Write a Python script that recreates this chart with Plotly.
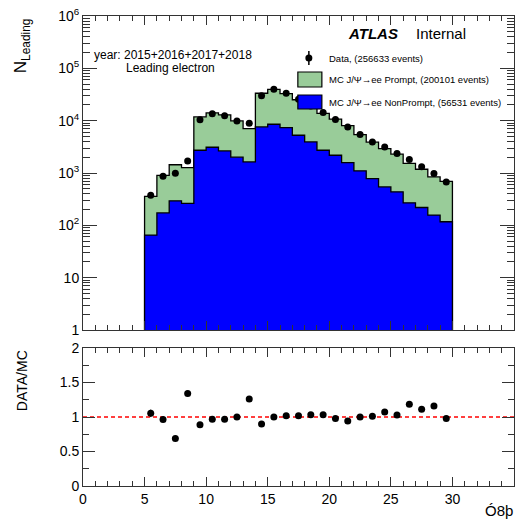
import numpy as np
import plotly.graph_objects as go

# ---------------- data ----------------
bin_edges = list(range(5, 31))
data_counts = [377, 869, 991, 1702, 10450, 13570, 12410, 9880, 8910, 30000,
               39700, 33500, 25600, 19100, 14300, 10500, 7590, 5420, 3920, 3150,
               2355, 1810, 1310, 977, 676]
mc_prompt = [293, 727, 1144, 1008, 9050, 10940, 10210, 7880, 5430, 25820,
             31160, 25500, 19860, 14550, 11110, 8530, 6470, 4320, 3100, 2390,
             1850, 1260, 960, 685, 573]
mc_nonprompt = [65, 173, 294, 262, 2720, 3105, 2640, 2003, 1630, 7590,
                8540, 7380, 5260, 3920, 2720, 2185, 1585, 1099, 784, 543,
                436, 269, 219, 157, 117]
main_ytick_vals = [1, 10, 100, 1000, 10000, 100000, 1000000]
main_ytick_text = ["1", "10", "10<sup>2</sup>", "10<sup>3</sup>", "10<sup>4</sup>",
                   "10<sup>5</sup>", "10<sup>6</sup>"]
ratio_ytick_vals = [0, 0.5, 1, 1.5, 2]
ratio_ytick_text = ["0", "0.5", "1", "1.5", "2"]
x_tick_vals = [0, 5, 10, 15, 20, 25, 30, 35]

edges = np.array(bin_edges, dtype=float)
centers = 0.5 * (edges[:-1] + edges[1:])
data = np.array(data_counts, dtype=float)
prompt = np.array(mc_prompt, dtype=float)
nonprompt = np.array(mc_nonprompt, dtype=float)
total = prompt + nonprompt
ratio = data / total
ratio_err = np.sqrt(data) / total

FONT = "Liberation Sans, Arial, Helvetica, sans-serif"
W = H = 521
L_PX, R_PX = 83.3, 514.0
T_PX, B_PX = 16.0, 486.0
MAIN_BOT = 330.0
RATIO_TOP = 348.0


def xp(px):
    return (px - L_PX) / (R_PX - L_PX)


def yp(py):
    return (B_PX - py) / (B_PX - T_PX)


def step_poly(e, vals, base=1.0):
    xs = [e[0]]
    ys = [base]
    for i, v in enumerate(vals):
        xs += [e[i], e[i + 1]]
        ys += [v, v]
    xs.append(e[-1])
    ys.append(base)
    return xs, ys


fig = go.Figure()

# stacked histogram: total (green on top) then nonprompt (blue)
xs_t, ys_t = step_poly(edges, total)
fig.add_trace(go.Scatter(x=xs_t, y=ys_t, mode="lines", fill="toself",
                         fillcolor="#99cc99", line=dict(color="black", width=1.3),
                         xaxis="x", yaxis="y", hoverinfo="skip", showlegend=False))
xs_n, ys_n = step_poly(edges, nonprompt)
fig.add_trace(go.Scatter(x=xs_n, y=ys_n, mode="lines", fill="toself",
                         fillcolor="#0000ff", line=dict(color="black", width=1.3),
                         xaxis="x", yaxis="y", hoverinfo="skip", showlegend=False))
# data points
fig.add_trace(go.Scatter(x=centers, y=data, mode="markers",
                         marker=dict(color="black", size=7),
                         error_y=dict(type="data", array=np.sqrt(data), color="black",
                                      thickness=1, width=0),
                         xaxis="x", yaxis="y", showlegend=False))

# ratio
fig.add_trace(go.Scatter(x=[0, 35], y=[1, 1], mode="lines",
                         line=dict(color="red", width=1.3, dash="4px,3px"),
                         xaxis="x2", yaxis="y2", hoverinfo="skip", showlegend=False))
fig.add_trace(go.Scatter(x=centers, y=ratio, mode="markers",
                         marker=dict(color="black", size=7),
                         error_y=dict(type="data", array=ratio_err, color="black",
                                      thickness=1, width=0),
                         xaxis="x2", yaxis="y2", showlegend=False))

axis_common = dict(showgrid=False, zeroline=False, showline=True, linecolor="#333",
                   linewidth=1, mirror="allticks", ticks="inside", tickcolor="#333",
                   tickfont=dict(family=FONT, size=14, color="black"))

main_dom = [yp(MAIN_BOT), 1.0]
ratio_dom = [0.0, yp(RATIO_TOP)]

fig.update_layout(
    width=W, height=H,
    margin=dict(l=L_PX, r=W - R_PX, t=T_PX, b=H - B_PX, pad=0),
    paper_bgcolor="white", plot_bgcolor="white",
    font=dict(family=FONT, color="black"),
    showlegend=False,
    xaxis=dict(domain=[0, 1], range=[0, 35], anchor="y", tickvals=x_tick_vals,
               showticklabels=False, ticklen=9,
               minor=dict(dtick=1, ticks="inside", ticklen=5, tickcolor="#333"),
               **axis_common),
    yaxis=dict(domain=main_dom, type="log", range=[0, 6], anchor="x",
               tickvals=main_ytick_vals, ticktext=main_ytick_text, ticklen=14,
               minor=dict(dtick="D1", ticks="inside", ticklen=7, tickcolor="#333"),
               **axis_common),
    xaxis2=dict(domain=[0, 1], range=[0, 35], anchor="y2", tickvals=x_tick_vals,
                ticklen=9,
                minor=dict(dtick=1, ticks="inside", ticklen=5, tickcolor="#333"),
                **axis_common),
    yaxis2=dict(domain=ratio_dom, range=[0, 2], anchor="x2",
                tickvals=ratio_ytick_vals, ticktext=ratio_ytick_text, ticklen=12,
                minor=dict(dtick=0.25, ticks="inside", ticklen=6, tickcolor="#333"),
                **axis_common),
)

ann = []
# axis titles
ann.append(dict(text="N<sub>Leading</sub>", x=xp(22), y=yp(16), xref="paper", yref="paper",
                xanchor="center", yanchor="top", textangle=-90, showarrow=False,
                font=dict(family=FONT, size=17)))
ann.append(dict(text="DATA/MC", x=xp(22), y=yp(348), xref="paper", yref="paper",
                xanchor="center", yanchor="top", textangle=-90, showarrow=False,
                font=dict(family=FONT, size=14)))
ann.append(dict(text="Ó8þ", x=xp(515), y=yp(521), xref="paper", yref="paper",
                xanchor="right", yanchor="bottom", showarrow=False,
                font=dict(family=FONT, size=15)))
# ATLAS label
ann.append(dict(text="<b><i>ATLAS</i></b>", x=xp(346), y=yp(33), xref="paper", yref="paper",
                xanchor="left", yanchor="middle", showarrow=False,
                font=dict(family=FONT, size=15)))
ann.append(dict(text="Internal", x=xp(414), y=yp(33), xref="paper", yref="paper",
                xanchor="left", yanchor="middle", showarrow=False,
                font=dict(family=FONT, size=15)))
# year text
ann.append(dict(text="year: 2015+2016+2017+2018", x=xp(173), y=yp(55), xref="paper",
                yref="paper", xanchor="center", yanchor="middle", showarrow=False,
                font=dict(family=FONT, size=12)))
ann.append(dict(text="Leading electron", x=xp(171), y=yp(68), xref="paper",
                yref="paper", xanchor="center", yanchor="middle", showarrow=False,
                font=dict(family=FONT, size=12)))
# legend texts
leg_texts = ["Data, (256633 events)",
             "MC J/Ψ→ee Prompt, (200101 events)",
             "MC J/Ψ→ee NonPrompt, (56531 events)"]
leg_y = [58, 80, 102]
for t, yy in zip(leg_texts, leg_y):
    ann.append(dict(text=t, x=xp(327), y=yp(yy), xref="paper", yref="paper",
                    xanchor="left", yanchor="middle", showarrow=False,
                    font=dict(family=FONT, size=9.5)))
fig.update_layout(annotations=ann)

shapes = []
# legend: data marker with error bar
shapes.append(dict(type="line", xref="paper", yref="paper", x0=xp(309), x1=xp(309),
                   y0=yp(51), y1=yp(65), line=dict(color="black", width=1.5)))
shapes.append(dict(type="circle", xref="paper", yref="paper", xsizemode="pixel",
                   ysizemode="pixel", xanchor=xp(309), yanchor=yp(58),
                   x0=-3.5, x1=3.5, y0=-3.5, y1=3.5,
                   fillcolor="black", line=dict(color="black", width=0)))
# legend boxes
shapes.append(dict(type="rect", xref="paper", yref="paper", x0=xp(298), x1=xp(322),
                   y0=yp(87), y1=yp(72), fillcolor="#99cc99",
                   line=dict(color="black", width=1.2)))
shapes.append(dict(type="rect", xref="paper", yref="paper", x0=xp(298), x1=xp(322),
                   y0=yp(109), y1=yp(95), fillcolor="#0000ff",
                   line=dict(color="black", width=1.2)))
fig.update_layout(shapes=shapes)

fig.write_html("out.html")
